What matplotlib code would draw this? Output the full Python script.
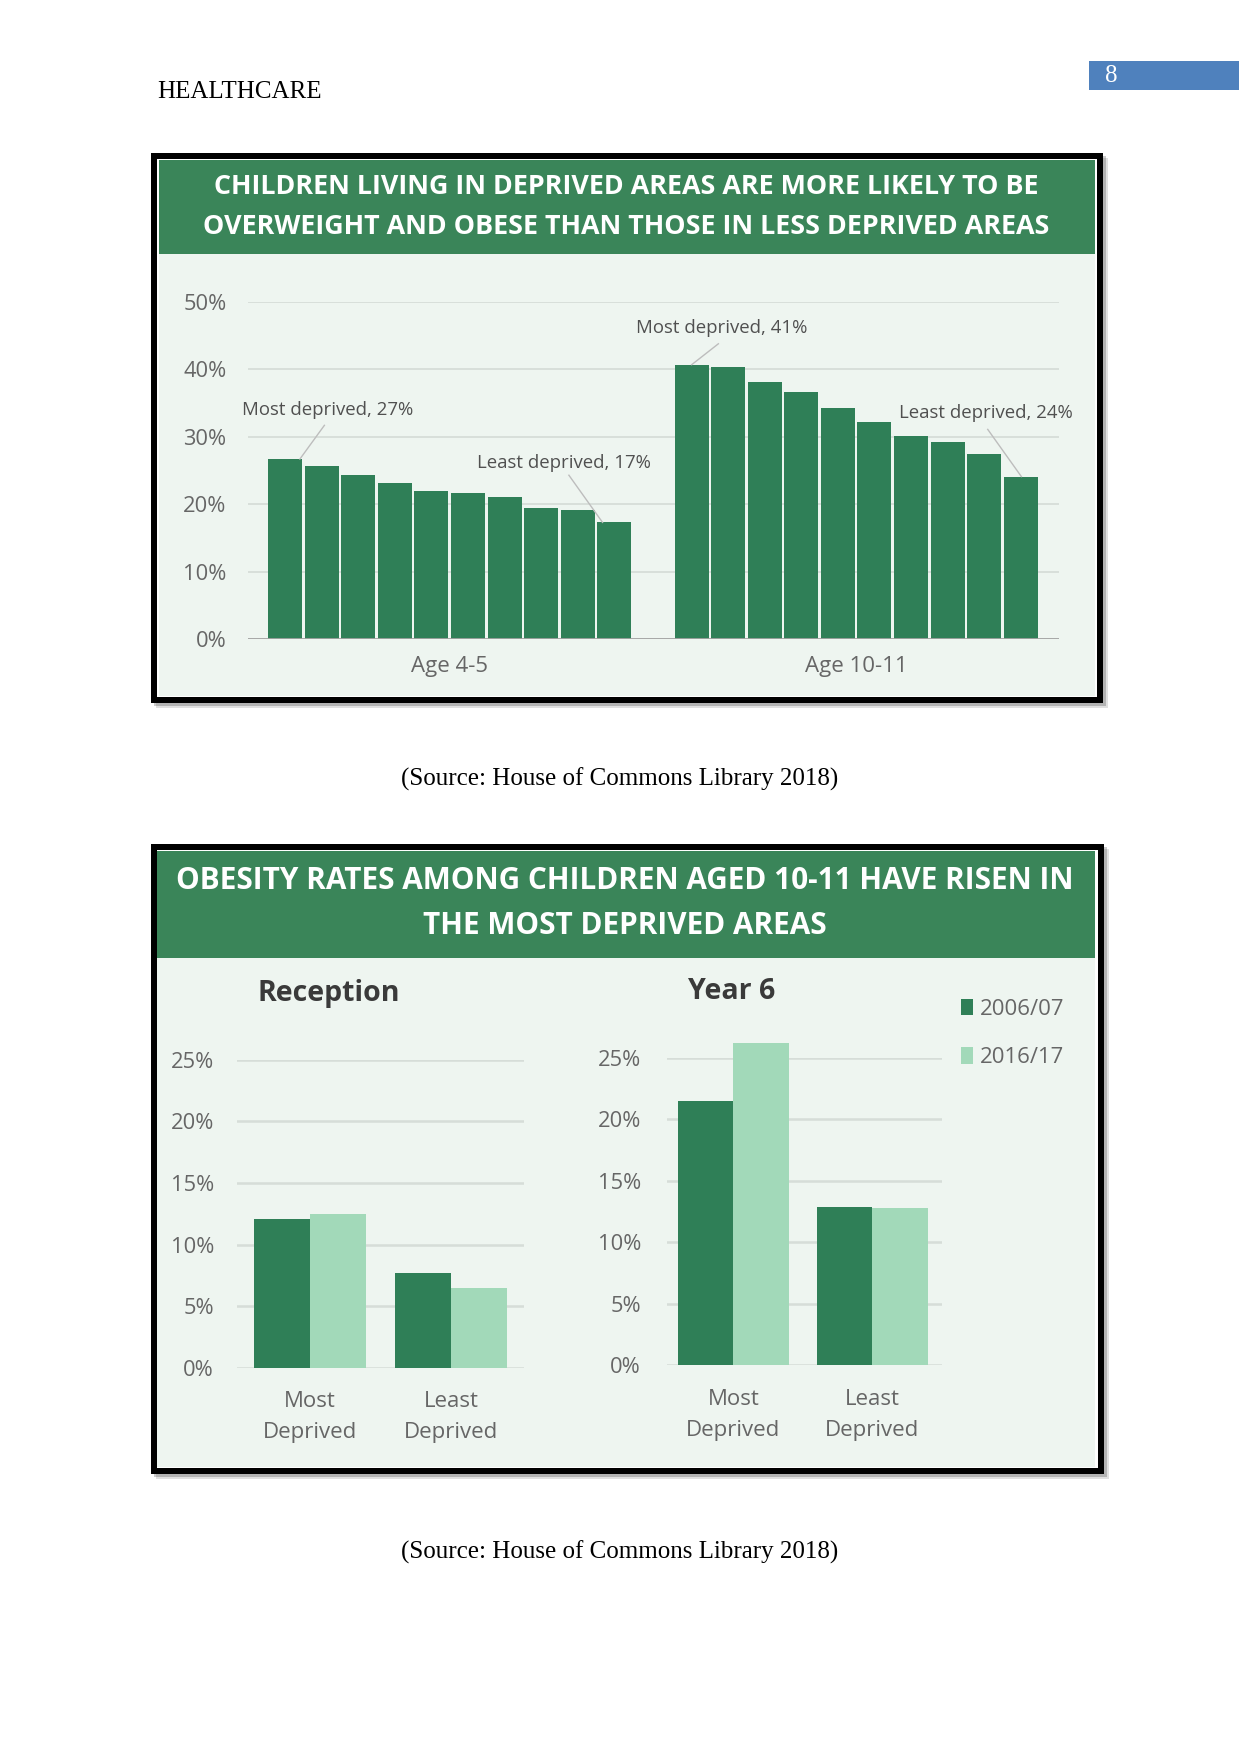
import matplotlib
matplotlib.use("Agg")
import matplotlib.pyplot as plt
from matplotlib.patches import Rectangle

# ---------------- data ----------------
header_text = "HEALTHCARE"
page_number = "8"
source_text = "(Source: House of Commons Library 2018)"

title1 = ["CHILDREN LIVING IN DEPRIVED AREAS ARE MORE LIKELY TO BE",
          "OVERWEIGHT AND OBESE THAN THOSE IN LESS DEPRIVED AREAS"]
age_groups = ["Age 4-5", "Age 10-11"]
age_4_5 = [26.7, 25.6, 24.3, 23.2, 22.0, 21.6, 21.0, 19.5, 19.1, 17.3]
age_10_11 = [40.7, 40.3, 38.2, 36.6, 34.2, 32.2, 30.1, 29.3, 27.5, 24.1]
y1_ticks = [0, 10, 20, 30, 40, 50]
annot_labels = ["Most deprived, 27%", "Least deprived, 17%",
                "Most deprived, 41%", "Least deprived, 24%"]

title2 = ["OBESITY RATES AMONG CHILDREN AGED 10-11 HAVE RISEN IN",
          "THE MOST DEPRIVED AREAS"]
panels = ["Reception", "Year 6"]
categories = ["Most\nDeprived", "Least\nDeprived"]
years = ["2006/07", "2016/17"]
reception_2006 = [12.1, 7.7]
reception_2016 = [12.5, 6.5]
year6_2006 = [21.5, 12.9]
year6_2016 = [26.2, 12.8]
y2_ticks = [0, 5, 10, 15, 20, 25]

# ---------------- style ----------------
DARK = "#2F7F57"
LIGHT = "#A2D9B9"
BAND = "#3A8559"
BG = "#EEF5F0"
GRID = "#D6DDD8"
TXT = "#666666"
SANS = ["Open Sans", "DejaVu Sans"]
SERIF = ["Liberation Serif", "DejaVu Serif"]

W, H = 1241, 1754
fig = plt.figure(figsize=(W / 100, H / 100), dpi=100)
fig.patch.set_facecolor("white")
renderer = fig.canvas.get_renderer()


def fx(x):
    return x / W


def fy(y):
    return 1 - y / H


def rect(x0, y0, x1, y1, **kw):
    fig.add_artist(Rectangle((fx(x0), fy(y1)), (x1 - x0) / W, (y1 - y0) / H,
                             transform=fig.transFigure, zorder=-5, **kw))


def axes_px(x0, y0, x1, y1):
    return fig.add_axes([fx(x0), fy(y1), (x1 - x0) / W, (y1 - y0) / H])


def fit_size(s, target_w, base=20, **kw):
    t = fig.text(0, 0, s, fontsize=base, **kw)
    w = t.get_window_extent(renderer).width
    t.remove()
    return base * target_w / w


def frame(x0, y0, x1, y1, content, band_bottom):
    rect(x0 + 5, y0 + 5, x1 + 5, y1 + 5, color="#000000", alpha=0.12, lw=0)
    rect(x0 + 3, y0 + 3, x1 + 3, y1 + 3, color="#000000", alpha=0.2, lw=0)
    rect(x0, y0, x1, y1, color="black", lw=0)
    rect(x0 + 6, y0 + 6, x1 - 6, y1 - 6, color="white", lw=0)
    cx0, cy0, cx1, cy1 = content
    rect(cx0, cy0, cx1, cy1, color=BG, lw=0)
    rect(cx0, cy0, cx1, band_bottom, color=BAND, lw=0)


# ---------------- page text ----------------
fig.text(fx(157), fy(92), header_text, family=SERIF, fontsize=18,
         ha="left", va="center", color="black")
rect(1089, 61, 1239, 90, color="#4F81BD", lw=0)
fig.text(fx(1111), fy(76), page_number, family=SERIF, fontsize=18,
         ha="center", va="center", color="white")
fig.text(fx(620), fy(779), source_text, family=SERIF, fontsize=18,
         ha="center", va="center", color="black")
fig.text(fx(620), fy(1552), source_text, family=SERIF, fontsize=18,
         ha="center", va="center", color="black")

# ---------------- chart 1 ----------------
frame(151, 153, 1103, 703, (159, 160, 1095, 696), 254)
ts1 = fit_size(title1[1], 848, family=SANS, weight="bold")
for line, yy in zip(title1, [187.5, 227]):
    fig.text(fx(626), fy(yy), line, family=SANS, weight="bold", fontsize=ts1,
             color="white", ha="center", va="center")

tick_fs = fit_size("50%", 43, family=SANS)
ax1 = axes_px(248, 302, 1059, 639)
ax1.set_facecolor("none")
n = len(age_4_5)
group_gap = 1.12
pos1 = list(range(n))
pos2 = [n + group_gap + i for i in range(n)]
ax1.bar(pos1, age_4_5, width=0.93, color=DARK, zorder=3)
ax1.bar(pos2, age_10_11, width=0.93, color=DARK, zorder=3)
ax1.set_xlim(-1.02, 21.17)
ax1.set_ylim(0, 50)
ax1.set_yticks(y1_ticks)
ax1.set_yticklabels([f"{t}%" for t in y1_ticks])
ax1.yaxis.grid(True, color=GRID, lw=1.3, zorder=0)
ax1.set_axisbelow(True)
ax1.axhline(0, color="#A3A3A3", lw=2, zorder=4)
for sp in ax1.spines.values():
    sp.set_visible(False)
ax1.tick_params(axis="y", length=0, pad=15.5, labelsize=tick_fs, labelcolor=TXT)
ax1.set_xticks([(pos1[0] + pos1[-1]) / 2, (pos2[0] + pos2[-1]) / 2])
xl_fs = fit_size("Age 4-5", 77, family=SANS)
ax1.set_xticklabels(age_groups)
ax1.tick_params(axis="x", length=0, pad=12, labelsize=xl_fs, labelcolor=TXT)
for lab in ax1.get_xticklabels() + ax1.get_yticklabels():
    lab.set_family(SANS)

ann_fs = fit_size(annot_labels[0], 171, family=SANS)
ann_layout = [
    # text left x, text y, line start (x, y), bar position, value, end dx
    (-1.18, 34.0, 1.07, 31.7, pos1[0], age_4_5[0], 0.40),
    (5.25, 26.1, 7.76, 24.3, pos1[-1], age_4_5[-1], -0.32),
    (9.60, 46.1, 11.85, 43.8, pos2[0], age_10_11[0], 0.0),
    (16.79, 33.5, 19.22, 31.1, pos2[-1], age_10_11[-1], 0.02),
]
for label, (tx, ty, sx, sy, bp, bv, dx) in zip(annot_labels, ann_layout):
    ax1.text(tx, ty, label, family=SANS, fontsize=ann_fs, color="#505050",
             ha="left", va="center", clip_on=False)
    ax1.plot([sx, bp + dx], [sy, bv], color="#BDBDBD", lw=1, zorder=5,
             clip_on=False)

# ---------------- chart 2 ----------------
frame(151, 844, 1104, 1474, (157, 851, 1095, 1467), 958)
ts2 = fit_size(title2[0], 900, family=SANS, weight="bold")
for line, yy in zip(title2, [881, 926]):
    fig.text(fx(624.5), fy(yy), line, family=SANS, weight="bold", fontsize=ts2,
             color="white", ha="center", va="center")

head_fs = fit_size(panels[0], 143, family=SANS, weight="bold")
fig.text(fx(257), fy(994), panels[0], family=SANS, weight="bold",
         fontsize=head_fs, color="#3A3A3A", ha="left", va="center")
fig.text(fx(687.5), fy(992), panels[1], family=SANS, weight="bold",
         fontsize=head_fs, color="#3A3A3A", ha="left", va="center")

cat_fs = fit_size("Deprived", 94, family=SANS)
bar_w = 0.40


def panel(axbox, v2006, v2016, xlim, ypad):
    ax = axes_px(*axbox)
    ax.set_facecolor("none")
    x = list(range(len(categories)))
    b1 = ax.bar([i - bar_w / 2 for i in x], v2006, width=bar_w, color=DARK,
                zorder=3, clip_on=False)
    b2 = ax.bar([i + bar_w / 2 for i in x], v2016, width=bar_w, color=LIGHT,
                zorder=3, clip_on=False)
    ax.set_xlim(*xlim)
    ax.set_ylim(0, 25)
    ax.set_yticks(y2_ticks)
    ax.set_yticklabels([f"{t}%" for t in y2_ticks])
    ax.yaxis.grid(True, color=GRID, lw=1.8, zorder=0)
    ax.set_axisbelow(True)
    for sp in ax.spines.values():
        sp.set_visible(False)
    ax.tick_params(axis="y", length=0, pad=ypad, labelsize=tick_fs,
                   labelcolor=TXT)
    ax.set_xticks(x)
    ax.set_xticklabels(categories, linespacing=1.6)
    ax.tick_params(axis="x", length=0, pad=17, labelsize=cat_fs, labelcolor=TXT)
    for lab in ax.get_xticklabels() + ax.get_yticklabels():
        lab.set_family(SANS)
    return ax, b1, b2


axr, _, _ = panel((237.5, 1059.6, 523.5, 1367.8), reception_2006,
                  reception_2016, (-0.514, 1.514), 16.9)
axy, h1, h2 = panel((667, 1057.6, 941.6, 1365.4), year6_2006, year6_2016,
                    (-0.478, 1.498), 18.7)

leg_fs = fit_size(years[0], 84, family=SANS)
leg = axy.legend([h1, h2], years, loc="upper left",
                 bbox_to_anchor=(fx(961), fy(998.5)), bbox_transform=fig.transFigure,
                 frameon=False, handlelength=0.55, handleheight=0.8,
                 handletextpad=0.3, labelspacing=1.22, borderpad=0,
                 borderaxespad=0, prop={"family": SANS, "size": leg_fs})
for t in leg.get_texts():
    t.set_color(TXT)

fig.savefig("out.png", dpi=100, facecolor="white")
